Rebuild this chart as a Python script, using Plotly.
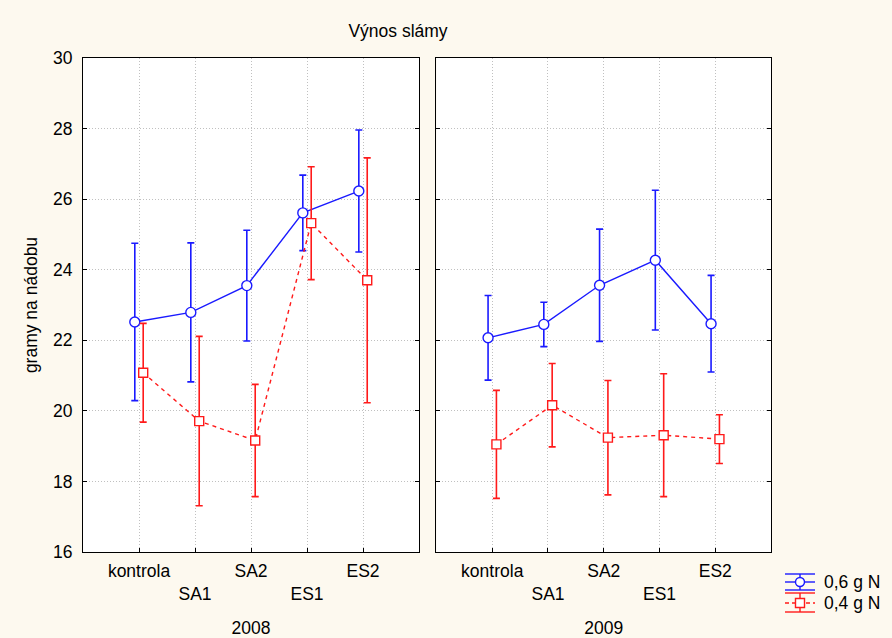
import plotly.graph_objects as go

categories = ["kontrola", "SA1", "SA2", "ES1", "ES2"]
tick_labels = ["kontrola", "<br>SA1", "SA2", "<br>ES1", "ES2"]
years = ["2008", "2009"]

blue_2008 = [22.52, 22.79, 23.55, 25.61, 26.23]
blue_2008_err = [2.23, 1.97, 1.57, 1.07, 1.73]
red_2008 = [21.08, 19.71, 19.16, 25.32, 23.70]
red_2008_err = [1.40, 2.40, 1.59, 1.60, 3.47]

blue_2009 = [22.07, 22.45, 23.56, 24.27, 22.47]
blue_2009_err = [1.20, 0.63, 1.59, 1.98, 1.37]
red_2009 = [19.05, 20.16, 19.24, 19.31, 19.20]
red_2009_err = [1.53, 1.18, 1.62, 1.74, 0.69]

series_names = ["0,6 g N", "0,4 g N"]

BLUE = "#1a1aff"
RED = "#ff1a1a"
FONT = "Liberation Sans, Arial, sans-serif"
FS = 17.5

W, H = 892, 638
ML, MR, MT, MB = 83, 121, 58, 86
PW, PH = W - ML - MR, H - MT - MB


def px_x(px):
    return (px - ML) / PW


def px_y(py):
    return (H - MB - py) / PH


pos = [i + 1 for i in range(len(categories))]
off = 0.075

fig = go.Figure()

panels = [
    ("x", "y", blue_2008, blue_2008_err, red_2008, red_2008_err),
    ("x2", "y2", blue_2009, blue_2009_err, red_2009, red_2009_err),
]
for xa, ya, b, be, r, re_ in panels:
    fig.add_trace(go.Scatter(
        x=[p - off for p in pos], y=b, xaxis=xa, yaxis=ya,
        mode="lines+markers", name=series_names[0], showlegend=False,
        line=dict(color=BLUE, width=1.4),
        marker=dict(symbol="circle", size=10, color="white",
                    line=dict(color=BLUE, width=1.4)),
        error_y=dict(type="data", array=be, visible=True, color=BLUE,
                     thickness=1.6, width=3.5),
    ))
    fig.add_trace(go.Scatter(
        x=[p + off for p in pos], y=r, xaxis=xa, yaxis=ya,
        mode="lines+markers", name=series_names[1], showlegend=False,
        line=dict(color=RED, width=1.4, dash="4px,4px"),
        marker=dict(symbol="square", size=9, color="white",
                    line=dict(color=RED, width=1.4)),
        error_y=dict(type="data", array=re_, visible=True, color=RED,
                     thickness=1.6, width=3.5),
    ))

GRID = "#c0c0c0"
xcommon = dict(
    range=[0, 6], tickmode="array", tickvals=pos, ticktext=tick_labels,
    showgrid=True, gridcolor=GRID, griddash="1px,2px", gridwidth=1,
    showline=True, linecolor="black", linewidth=1, mirror=True,
    ticks="inside", ticklen=4, tickcolor="black",
    tickfont=dict(family=FONT, size=FS, color="black"),
    zeroline=False, automargin=False, ticklabelstandoff=3,
)
ycommon = dict(
    range=[16, 30], tickmode="array", tickvals=[16, 18, 20, 22, 24, 26, 28, 30],
    showgrid=True, gridcolor=GRID, griddash="1px,2px", gridwidth=1,
    showline=True, linecolor="black", linewidth=1, mirror="ticks",
    ticks="inside", ticklen=4, tickcolor="black",
    tickfont=dict(family=FONT, size=FS, color="black"),
    zeroline=False, automargin=False,
)

# legend drawn as shapes + text (error-bar style symbols)
shapes = []
annotations = []
legend_rows = [
    (series_names[0], BLUE, "circle", "solid", 574, 582, 590),
    (series_names[1], RED, "square", "4px,3px", 593, 603, 612),
]
for name, col, sym, dash, ytop, ymid, ybot in legend_rows:
    for yy in (ytop, ybot):
        shapes.append(dict(type="line", xref="paper", yref="paper",
                           x0=px_x(785), x1=px_x(815), y0=px_y(yy), y1=px_y(yy),
                           line=dict(color=col, width=1.4)))
    shapes.append(dict(type="line", xref="paper", yref="paper",
                       x0=px_x(785), x1=px_x(815), y0=px_y(ymid), y1=px_y(ymid),
                       line=dict(color=col, width=1.4, dash=dash)))
    shapes.append(dict(type="line", xref="paper", yref="paper",
                       x0=px_x(800), x1=px_x(800), y0=px_y(ytop), y1=px_y(ybot),
                       line=dict(color=col, width=1.4)))
    shapes.append(dict(type="circle" if sym == "circle" else "rect",
                       xref="paper", yref="paper",
                       x0=px_x(795.5), x1=px_x(804.5),
                       y0=px_y(ymid - 4.5), y1=px_y(ymid + 4.5),
                       fillcolor="white", line=dict(color=col, width=1.4)))
    annotations.append(dict(text=name, xref="paper", yref="paper",
                            x=px_x(822), y=px_y(ymid), xanchor="left",
                            yanchor="middle", showarrow=False,
                            font=dict(family=FONT, size=FS, color="black")))

fig.update_layout(
    width=W, height=H,
    margin=dict(l=ML, r=MR, t=MT, b=MB),
    paper_bgcolor="#fdf9ef", plot_bgcolor="white",
    font=dict(family=FONT, size=FS, color="black"),
    xaxis=dict(xcommon, domain=[0, 0.4884],
               title=dict(text=years[0], standoff=20,
                          font=dict(family=FONT, size=FS))),
    xaxis2=dict(xcommon, domain=[0.5138, 1],
                title=dict(text=years[1], standoff=20,
                           font=dict(family=FONT, size=FS))),
    yaxis=dict(ycommon, anchor="x", ticklabelstandoff=6,
               title=dict(text="gramy na nádobu", standoff=10,
                          font=dict(family=FONT, size=FS))),
    yaxis2=dict(ycommon, anchor="x2", showticklabels=False),
    title=dict(text="Výnos slámy", x=398 / W, xanchor="center",
               y=1 - 31 / H, yanchor="middle",
               font=dict(family=FONT, size=FS, color="black")),
    shapes=shapes,
    annotations=annotations,
    showlegend=False,
)

fig.write_html(
    "out.html",
    config={"displayModeBar": False},
    post_script="document.body.style.margin='0';document.body.style.background='#fdf9ef';",
)
